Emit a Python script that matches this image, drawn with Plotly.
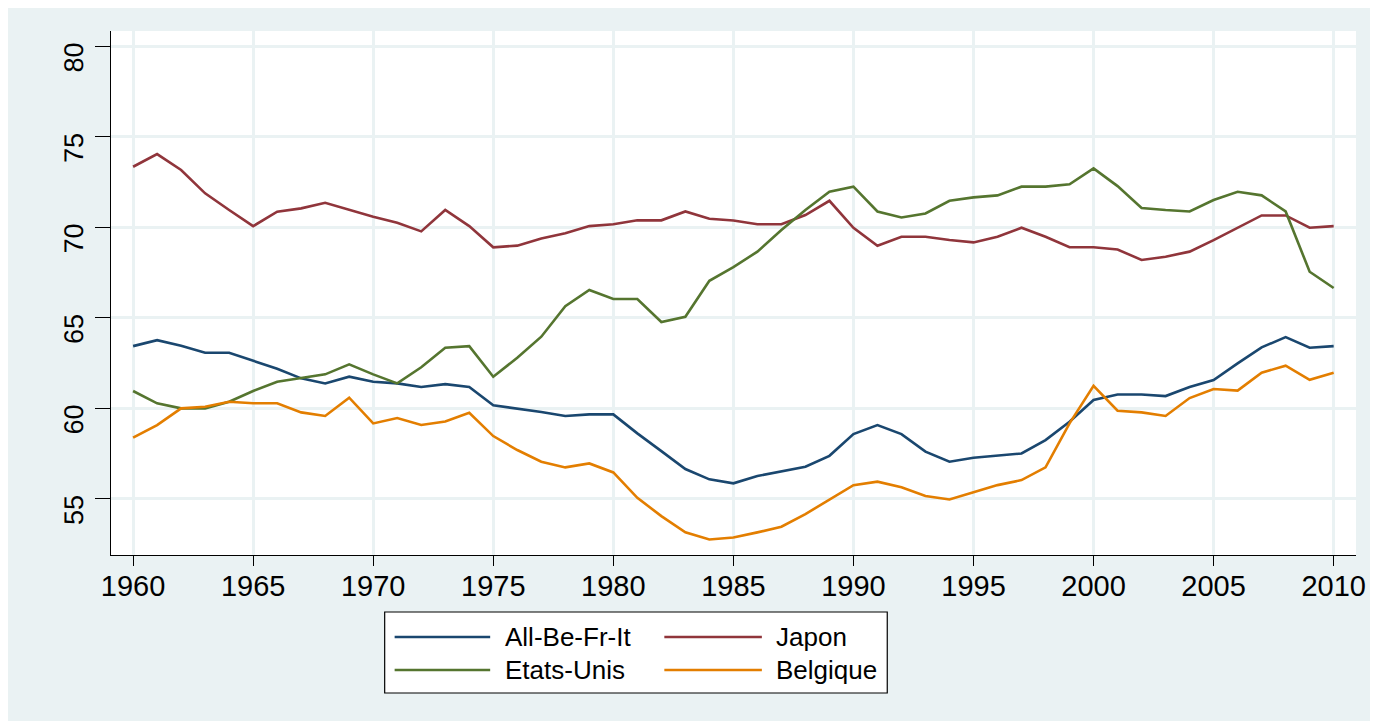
import plotly.graph_objects as go

# Data
years = list(range(1960, 2011))

all_be_fr_it = [63.44, 63.77, 63.46, 63.07, 63.07, 62.61, 62.19, 61.66, 61.38, 61.75,
                61.47, 61.38, 61.18, 61.34, 61.18, 60.17, 60.00, 59.80, 59.58, 59.67,
                59.67, 58.62, 57.64, 56.65, 56.08, 55.86, 56.26, 56.50, 56.78, 57.38,
                58.58, 59.08, 58.58, 57.61, 57.05, 57.27, 57.38, 57.51, 58.25, 59.26,
                60.46, 60.77, 60.77, 60.68, 61.18, 61.57, 62.49, 63.37, 63.94, 63.35,
                63.44]

japon = [73.35, 74.05, 73.17, 71.88, 70.96, 70.07, 70.87, 71.05, 71.36, 70.96,
         70.59, 70.26, 69.78, 70.96, 70.07, 68.90, 68.99, 69.39, 69.67, 70.07,
         70.17, 70.39, 70.39, 70.88, 70.48, 70.38, 70.17, 70.17, 70.68, 71.47,
         69.98, 68.99, 69.48, 69.48, 69.30, 69.17, 69.48, 69.98, 69.48, 68.90,
         68.90, 68.78, 68.20, 68.38, 68.66, 69.30, 69.98, 70.66, 70.66, 69.98,
         70.07]

etats_unis = [60.96, 60.28, 60.00, 60.00, 60.37, 60.96, 61.47, 61.66, 61.88, 62.43,
              61.88, 61.38, 62.27, 63.35, 63.44, 61.75, 62.80, 63.96, 65.65, 66.54,
              66.04, 66.04, 64.77, 65.06, 67.05, 67.80, 68.66, 69.85, 70.96, 71.97,
              72.25, 70.88, 70.55, 70.77, 71.47, 71.66, 71.77, 72.25, 72.25, 72.38,
              73.26, 72.28, 71.07, 70.96, 70.88, 71.51, 71.97, 71.77, 70.88, 67.55,
              66.65]

belgique = [58.38, 59.08, 60.00, 60.09, 60.37, 60.28, 60.28, 59.78, 59.58, 60.59,
            59.17, 59.47, 59.08, 59.28, 59.76, 58.47, 57.70, 57.05, 56.74, 56.96,
            56.46, 55.06, 54.05, 53.15, 52.76, 52.87, 53.15, 53.46, 54.16, 54.97,
            55.76, 55.95, 55.64, 55.16, 54.97, 55.36, 55.76, 56.04, 56.74, 59.17,
            61.25, 59.87, 59.78, 59.58, 60.57, 61.07, 60.98, 61.97, 62.36, 61.58,
            61.97]

series_names = ['All-Be-Fr-It', 'Japon', 'Etats-Unis', 'Belgique']
series_values = [all_be_fr_it, japon, etats_unis, belgique]
series_colors = ['#1A476F', '#90353B', '#55752F', '#E37E00']

x_ticks = [1960, 1965, 1970, 1975, 1980, 1985, 1990, 1995, 2000, 2005, 2010]
y_ticks = [55, 60, 65, 70, 75, 80]

# Layout geometry (pixels, figure space; page adds an 8px body margin)
W, H = 1370, 713
L, R, T, B = 103, 16, 23, 166
PW, PH = W - L - R, H - T - B
BG = '#EAF2F3'
FONT = 'Liberation Sans, Arial, sans-serif'


def px_x(px):
    return (px - L) / PW


def px_y(py):
    return (H - B - py) / PH


fig = go.Figure()

for name, vals, col in zip(series_names, series_values, series_colors):
    fig.add_trace(go.Scatter(
        x=years, y=vals, mode='lines', name=name,
        line=dict(color=col, width=2.6),
        showlegend=False
    ))

# legend box, drawn by hand to get Stata-like long keys
shapes = [
    dict(type='rect', xref='paper', yref='paper',
         x0=px_x(378), x1=px_x(883), y0=px_y(685), y1=px_y(604),
         fillcolor='white', line=dict(color='black', width=1.2)),
]

annotations = []
cols = [(388, 484, 499), (659, 757, 771)]
rows = [629, 662]
for i, (name, col) in enumerate(zip(series_names, series_colors)):
    lx0, lx1, tx = cols[i % 2]
    ry = rows[i // 2]
    shapes.append(dict(type='line', xref='paper', yref='paper',
                       x0=px_x(lx0), x1=px_x(lx1), y0=px_y(ry), y1=px_y(ry),
                       line=dict(color=col, width=2.6)))
    annotations.append(dict(xref='paper', yref='paper', x=px_x(tx), y=px_y(ry),
                            text=name, showarrow=False, xanchor='left',
                            yanchor='middle', xshift=-2,
                            font=dict(family=FONT, size=26, color='black')))

fig.update_layout(
    width=W, height=H,
    margin=dict(l=L, r=R, t=T, b=B),
    paper_bgcolor=BG,
    plot_bgcolor='white',
    font=dict(family=FONT, size=26, color='black'),
    shapes=shapes,
    annotations=annotations,
    xaxis=dict(
        range=[1959.08, 2010.93],
        tickvals=x_ticks,
        ticks='outside', ticklen=10, tickwidth=1.2, tickcolor='black',
        showline=True, linecolor='black', linewidth=1.3,
        showgrid=True, gridcolor=BG, gridwidth=2.5,
        zeroline=False,
        ticklabelstandoff=-5,
        tickfont=dict(family=FONT, size=29, color='black'),
    ),
    yaxis=dict(
        range=[51.9, 80.85],
        tickvals=y_ticks,
        # exactly -90 is not honoured here, so use a hair less
        tickangle=-89.9,
        ticks='outside', ticklen=15, tickwidth=1.2, tickcolor='black',
        showline=True, linecolor='black', linewidth=1.3,
        showgrid=True, gridcolor=BG, gridwidth=2.5,
        zeroline=False,
        ticklabelstandoff=20,
        tickfont=dict(family=FONT, size=27, color='black'),
    ),
)

fig.write_html("out.html")
